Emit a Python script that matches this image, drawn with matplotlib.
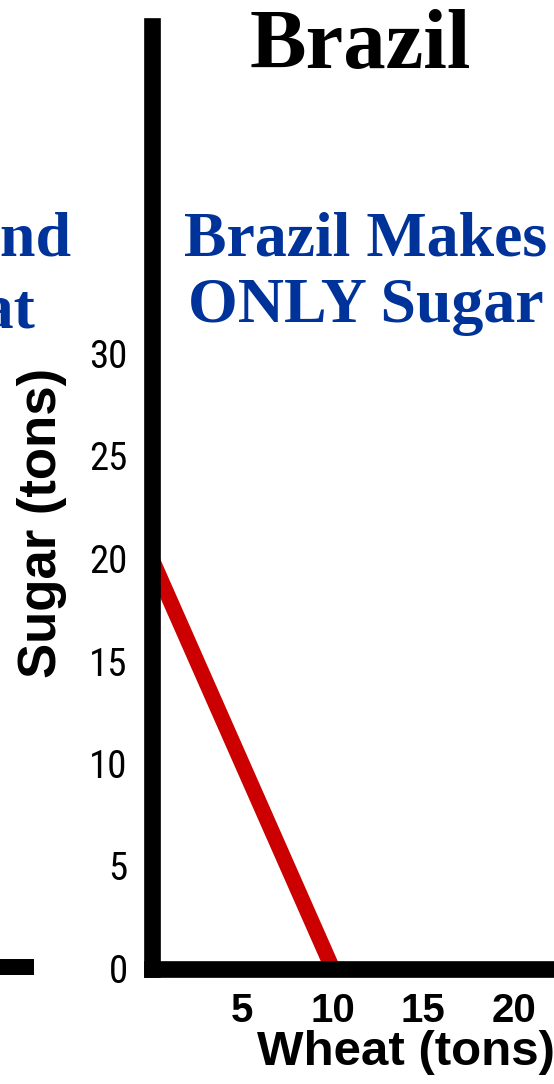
import matplotlib
matplotlib.use('Agg')
from matplotlib import pyplot as plt
from matplotlib import font_manager
from matplotlib.lines import Line2D

# production possibilities frontier for Brazil
wheat = [0, 10]
sugar = [20, 0]

xticks = [5, 10, 15, 20]
yticks = [0, 5, 10, 15, 20, 25, 30]

# narrow face for the y tick numbers, if one is around
names = set(f.name for f in font_manager.fontManager.ttflist)
narrow = 'Liberation Sans'
for n in ['Liberation Sans Narrow', 'Roboto Condensed', 'DejaVu Sans Condensed']:
    if n in names:
        narrow = n
        break

W, H = 554, 1084
fig = plt.figure(figsize=(W / 100, H / 100), dpi=100)

# axes placed so the spines sit where the slide has them
x0, y0 = 151.5, 968.5
px_x, px_y = 18.1, 20.5
xmax, ymax = 22.5, 46.0
ax = fig.add_axes([x0 / W, (H - y0) / H, xmax * px_x / W, ymax * px_y / H])
ax.set_xlim(0, xmax)
ax.set_ylim(0, ymax)

ax.plot(wheat, sugar, color='#CC0000', lw=11.2, solid_capstyle='butt')

for s in ['top', 'right']:
    ax.spines[s].set_visible(False)
for s in ['left', 'bottom']:
    ax.spines[s].set_linewidth(12)
    ax.spines[s].set_capstyle('projecting')
    ax.spines[s].set_zorder(3)

ax.set_xticks(xticks)
ax.set_xticklabels([str(t) for t in xticks], fontsize=29, fontweight='bold',
                   family='Liberation Sans')
ax.set_yticks(yticks)
ax.set_yticklabels([str(t) for t in yticks], fontsize=28, family=narrow)
ax.tick_params(axis='x', length=0, pad=17)
ax.tick_params(axis='y', length=0, pad=17)
ax.patch.set_alpha(0)

fig.text(406 / W, 1 - 1065 / H, 'Wheat (tons)', ha='center', va='baseline',
         fontsize=35.5, fontweight='bold', family='Liberation Sans')
fig.text(42 / W, 1 - 523 / H, 'Sugar (tons)', ha='center', va='center',
         rotation=90, fontsize=38, fontweight='bold', family='Liberation Sans')

fig.text(360 / W, 1 - 68 / H, 'Brazil', ha='center', va='baseline',
         fontsize=61, fontweight='bold', family='Liberation Serif')

blue = '#003399'
fig.text(366 / W, 1 - 255 / H, 'Brazil Makes', ha='center', va='baseline',
         fontsize=46, fontweight='bold', family='Liberation Serif', color=blue)
fig.text(366 / W, 1 - 322 / H, 'ONLY Sugar', ha='center', va='baseline',
         fontsize=46, fontweight='bold', family='Liberation Serif', color=blue)

# leftovers from the neighbouring panel, cut by the slide edge
fig.text(71 / W, 1 - 255 / H, 'and', ha='right', va='baseline',
         fontsize=46, fontweight='bold', family='Liberation Serif', color=blue)
fig.text(35 / W, 1 - 328 / H, 'Wheat', ha='right', va='baseline',
         fontsize=46, fontweight='bold', family='Liberation Serif', color=blue)
fig.add_artist(Line2D([-20 / W, 34 / W], [1 - 967 / H, 1 - 967 / H],
                      color='black', lw=11.5, solid_capstyle='butt'))

fig.savefig('out.png', dpi=100)
